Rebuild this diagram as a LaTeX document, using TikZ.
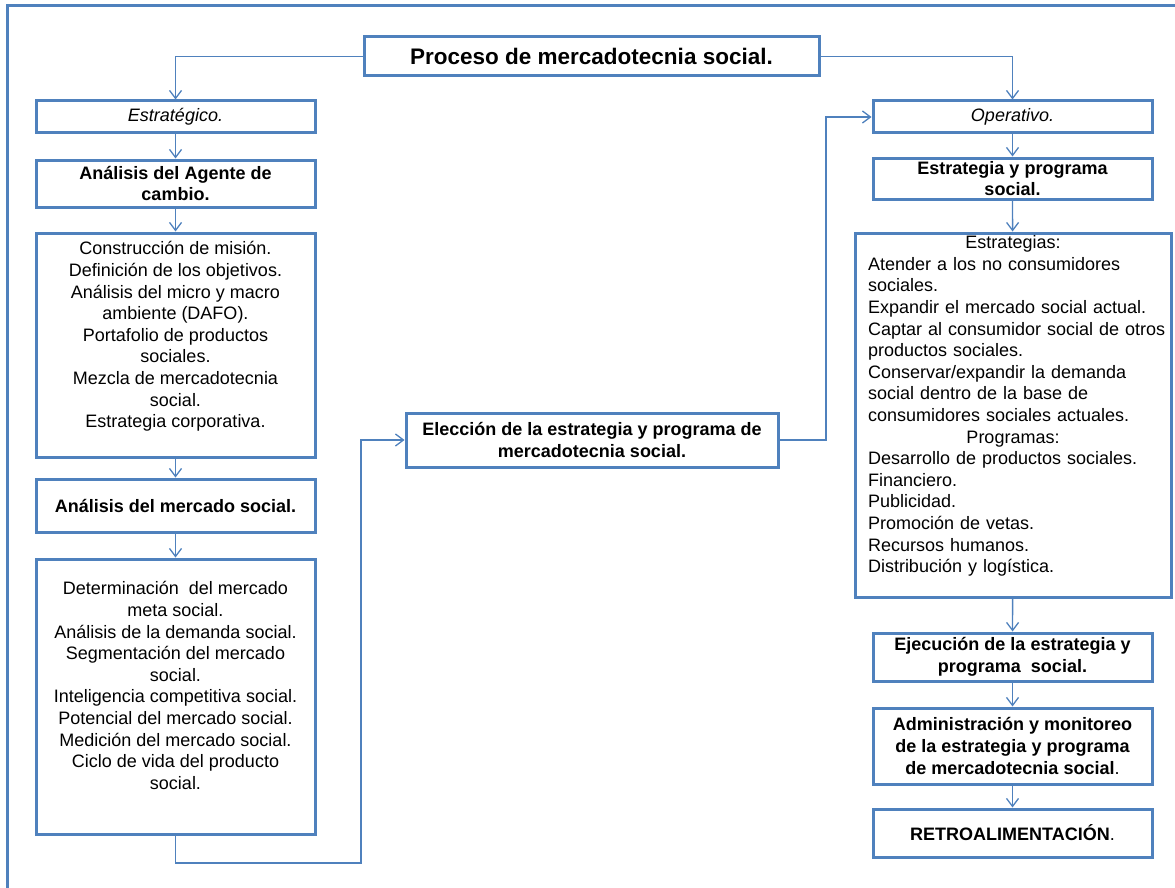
\documentclass[tikz,border=0pt]{standalone}
\usepackage{fontspec}
\setmainfont{Liberation Sans}
\usetikzlibrary{arrows.meta}
\definecolor{azul}{RGB}{79,129,189}

\begin{document}
\begin{tikzpicture}[x=1pt, y=-1pt,
	caja/.style={draw=azul, line width=3pt, inner sep=0pt, minimum width=279pt, align=center, font=\fontsize{18}{21.6}\selectfont},
	negrita/.style={caja, font=\fontsize{18}{21.6}\selectfont\bfseries},
	texto/.style={inner sep=0pt, align=center, font=\fontsize{18}{21.6}\selectfont},
	flecha/.style={draw=azul, line width=1.3pt, -{Straight Barb[length=8pt,width=12pt]}}]
	\useasboundingbox (0,0) rectangle (1175,888);
	\draw[azul, line width=3pt] (7.5,888) -- (7.5,6) -- (1175,6);
	
	\node[negrita, minimum width=455pt, minimum height=39pt, font=\fontsize{22.5}{27}\selectfont\bfseries] (titulo) at (591.5,56.5){Proceso de mercadotecnia social.};
	
	% lado estrategico
	\node[caja, minimum height=32pt, font=\fontsize{18}{21.6}\selectfont\itshape] (estr) at (175.5,117){Estratégico.};
	\node[negrita, minimum height=47pt] (agente) at (175.5,183.5){Análisis del Agente de\\cambio.};
	\node[caja, minimum height=224pt] (mision) at (175.5,345){};
	\node[texto] (misionT) at (175.5,336.5){Construcción de misión.\\Definición de los objetivos.\\Análisis del micro y macro\\ambiente (DAFO).\\Portafolio de productos\\sociales.\\Mezcla de mercadotecnia\\social.\\Estrategia corporativa.};
	\node[negrita, minimum height=53pt] (mercado) at (175.5,505.5){Análisis del mercado social.};
	\node[caja, minimum height=275pt] (meta) at (175.5,696.5){};
	\node[texto] (metaT) at (175.5,685.5){Determinación~ del mercado\\meta social.\\Análisis de la demanda social.\\Segmentación del mercado\\social.\\Inteligencia competitiva social.\\Potencial del mercado social.\\Medición del mercado social.\\Ciclo de vida del producto\\social.};
	
	\node[negrita, minimum width=372pt, minimum height=54pt] (eleccion) at (592,440){Elección de la estrategia y programa de\\mercadotecnia social.};
	
	% lado operativo
	\node[caja, minimum height=32pt, font=\fontsize{18}{21.6}\selectfont\itshape] (oper) at (1012.5,117){Operativo.};
	\node[negrita, minimum height=41pt] (estprog) at (1012.5,178.5){Estrategia y programa\\social.};
	\node[caja, minimum width=316pt, minimum height=364pt] (lista) at (1013,415){};
	\node[texto, align=left, text width=300pt] (listaT) at (1018,406){\makebox[290pt]{Estrategias:}\\Atender a los no consumidores\\sociales.\\Expandir el mercado social actual.\\Captar al consumidor social de otros\\productos sociales.\\Conservar/expandir la demanda\\social dentro de la base de\\consumidores sociales actuales.\\\makebox[290pt]{Programas:}\\Desarrollo de productos sociales.\\Financiero.\\Publicidad.\\Promoción de vetas.\\Recursos humanos.\\Distribución y logística.};
	\node[negrita, minimum height=48pt] (ejec) at (1012.5,657){Ejecución de la estrategia y\\programa~ social.};
	\node[negrita, minimum height=76pt] (admin) at (1012.5,746){Administración y monitoreo\\de la estrategia y programa\\de mercadotecnia social{\mdseries.}};
	\node[negrita, minimum height=48pt] (retro) at (1012.5,833){RETROALIMENTACIÓN{\mdseries.}};
	
	\coordinate (codo1) at (361,863);
	\coordinate (codo2) at (826,117);
	
	% conectores
	\draw[flecha] (titulo.west) -| (estr.north);
	\draw[flecha] (titulo.east) -| (oper.north);
	\draw[flecha] (estr) -- (agente);
	\draw[flecha] (agente) -- (mision);
	\draw[flecha] (mision) -- (mercado);
	\draw[flecha] (mercado) -- (meta);
	\draw[flecha] (meta.south) |- (codo1) |- (eleccion.west);
	\draw[flecha] (eleccion.east) -| (codo2) -- (oper.west);
	\draw[flecha] (oper) -- (estprog);
	\draw[flecha] (estprog) -- (lista);
	\draw[flecha] (lista) -- (ejec);
	\draw[flecha] (ejec) -- (admin);
	\draw[flecha] (admin) -- (retro);
\end{tikzpicture}
\end{document}
